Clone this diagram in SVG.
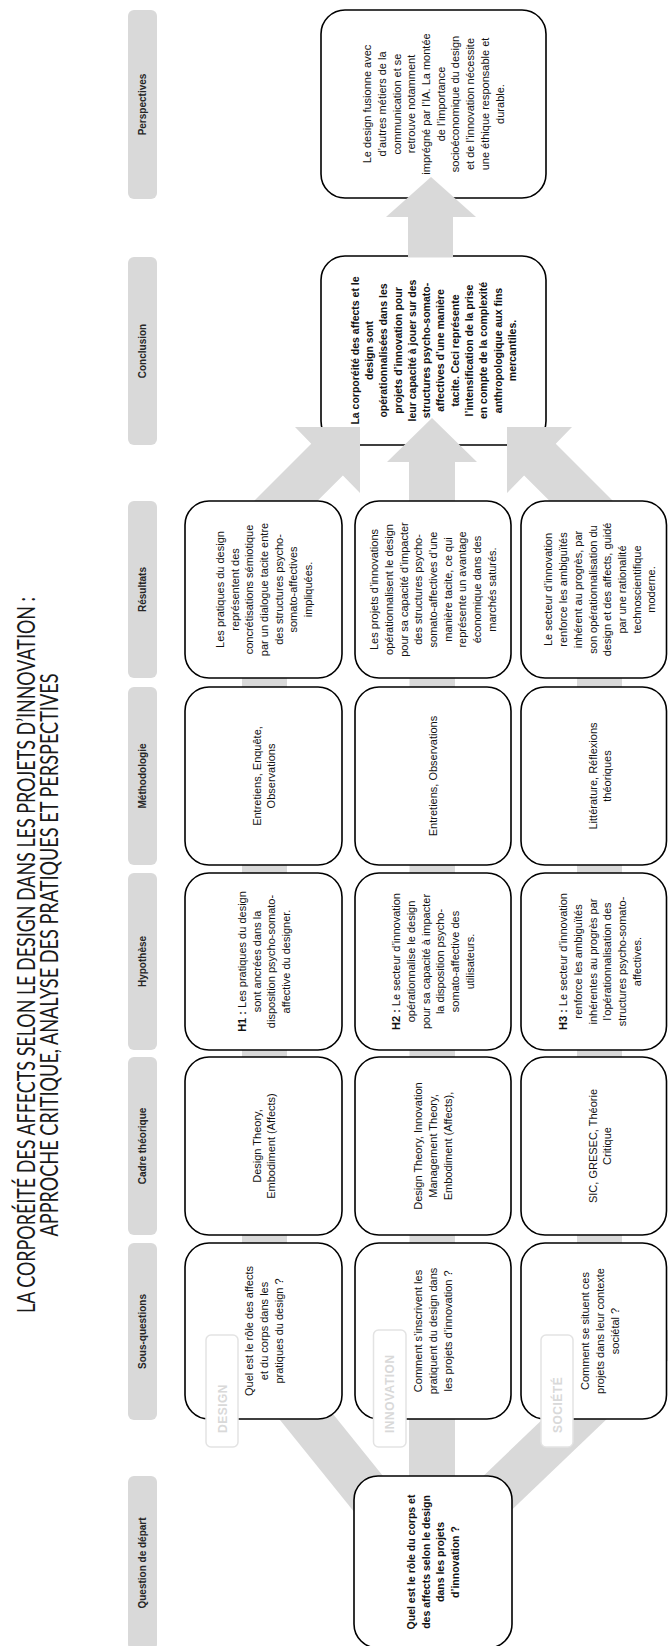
<svg xmlns="http://www.w3.org/2000/svg" width="668" height="1646" viewBox="0 0 668 1646">
<style>
.pill{fill:#d9d9d9}
.hdr{font-family:"Liberation Sans",Arial,sans-serif;font-size:10px;font-weight:bold;fill:#262626;text-anchor:middle}
.box{fill:#fff;stroke:#000;stroke-width:1.6}
.t{font-family:"Liberation Sans",Arial,sans-serif;font-size:11px;fill:#111;text-anchor:middle}
.b{font-family:"Liberation Sans",Arial,sans-serif;font-weight:bold;font-size:10.5px;fill:#111;text-anchor:middle}
.hb{font-weight:bold}
.conn{fill:#d9d9d9}
.lbl{fill:#fff;stroke:#e3e3e3;stroke-width:1.5}
.lt{font-family:"Liberation Sans",Arial,sans-serif;font-size:12px;font-weight:bold;fill:#d9d9d9;letter-spacing:0.5px}
.title{font-family:Lato,"Liberation Sans",Arial,sans-serif;font-weight:normal;font-size:25px;fill:#1a1a1a;text-anchor:middle}
</style>
<rect width="668" height="1646" fill="#fff"/>

<g id="title">
<text class="title" transform="translate(0 955) rotate(-90)" x="0" y="35" textLength="716" lengthAdjust="spacingAndGlyphs">LA CORPORÉITÉ DES AFFECTS SELON LE DESIGN DANS LES PROJETS D’INNOVATION :</text>
<text class="title" transform="translate(0 955) rotate(-90)" x="0" y="58" textLength="563" lengthAdjust="spacingAndGlyphs">APPROCHE CRITIQUE, ANALYSE DES PRATIQUES ET PERSPECTIVES</text>
</g>

<g id="headers">
<rect class="pill" x="128" y="10" width="29" height="189" rx="6"/>
<text class="hdr" transform="translate(142.5 104.5) rotate(-90)" y="3.6">Perspectives</text>
<rect class="pill" x="128" y="257" width="29" height="188" rx="6"/>
<text class="hdr" transform="translate(142.5 351) rotate(-90)" y="3.6">Conclusion</text>
<rect class="pill" x="128" y="501" width="29" height="177" rx="6"/>
<text class="hdr" transform="translate(142.5 589.5) rotate(-90)" y="3.6">Résultats</text>
<rect class="pill" x="128" y="687" width="29" height="178" rx="6"/>
<text class="hdr" transform="translate(142.5 776) rotate(-90)" y="3.6">Méthodologie</text>
<rect class="pill" x="128" y="873" width="29" height="177" rx="6"/>
<text class="hdr" transform="translate(142.5 961.5) rotate(-90)" y="3.6">Hypothèse</text>
<rect class="pill" x="128" y="1057" width="29" height="178" rx="6"/>
<text class="hdr" transform="translate(142.5 1146) rotate(-90)" y="3.6">Cadre théorique</text>
<rect class="pill" x="128" y="1243" width="29" height="177" rx="6"/>
<text class="hdr" transform="translate(142.5 1331.5) rotate(-90)" y="3.6">Sous-questions</text>
<rect class="pill" x="128" y="1476" width="29" height="174" rx="6"/>
<text class="hdr" transform="translate(142.5 1563) rotate(-90)" y="3.6">Question de départ</text>
</g>

<g id="node-perspectives">
<rect class="box" x="321" y="10" width="225" height="188" rx="24"/>
</g>
<g id="node-conclusion">
<rect class="box" x="321" y="256" width="225" height="189" rx="24"/>
</g>

<g id="connectors">
<rect class="conn" x="242" y="589" width="45" height="742"/>
<rect class="conn" x="409.5" y="589" width="45.5" height="742"/>
<rect class="conn" x="577" y="589" width="45" height="742"/>
<rect class="conn" x="409" y="1330" width="46" height="230"/>
<polygon class="conn" points="207.4,1330 265.3,1330 450.7,1560 392.9,1560"/>
<polygon class="conn" points="635.9,1330 699.8,1330 459.5,1560 395.5,1560"/>
<polygon class="conn" points="409,560 455,560 455,462 477,462 432,418 387,462 409,462"/>
<polygon class="conn" points="360,427 295,427 311.25,443.75 235,520 298.3,520 342.9,475.4 360,493"/>
<polygon class="conn" points="507,427 572,427 555.75,443.75 632,520 568.7,520 524.1,475.4 507,493"/>
<polygon class="conn" points="408,257.5 453,257.5 453,217 476,217 431,177 386,217 408,217"/>
</g>

<g id="node-question">
<rect class="box" x="354" y="1476" width="158" height="172" rx="24"/>
<text class="b" transform="translate(433 1562) rotate(-90)"><tspan x="0" y="-18.2">Quel est le rôle du corps et</tspan><tspan x="0" dy="14.7">des affects selon le design</tspan><tspan x="0" dy="14.7">dans les projets</tspan><tspan x="0" dy="14.7">d’innovation ?</tspan></text>
</g>

<g id="node-sq1">
<rect class="box" x="185" y="1243" width="157" height="176" rx="24"/>
<text class="t" transform="translate(264 1331) rotate(-90)"><tspan x="0" y="-10.8">Quel est le rôle des affects</tspan><tspan x="0" dy="14.7">et du corps dans les</tspan><tspan x="0" dy="14.7">pratiques du design ?</tspan></text>
</g>
<g id="node-sq2">
<rect class="box" x="355" y="1243" width="156" height="176" rx="24"/>
<text class="t" transform="translate(433 1331) rotate(-90)"><tspan x="0" y="-10.8">Comment s’inscrivent les</tspan><tspan x="0" dy="14.7">pratiquent du design dans</tspan><tspan x="0" dy="14.7">les projets d’innovation ?</tspan></text>
</g>
<g id="node-sq3">
<rect class="box" x="521" y="1243" width="145.5" height="176" rx="24"/>
<text class="t" transform="translate(600 1331) rotate(-90)"><tspan x="0" y="-10.8">Comment se situent ces</tspan><tspan x="0" dy="14.7">projets dans leur contexte</tspan><tspan x="0" dy="14.7">sociétal ?</tspan></text>
</g>

<g id="node-cadre1">
<rect class="box" x="185" y="1057" width="157" height="178" rx="24"/>
<text class="t" transform="translate(264 1146) rotate(-90)"><tspan x="0" y="-3.45">Design Theory,</tspan><tspan x="0" dy="14.7">Embodiment (Affects)</tspan></text>
</g>
<g id="node-cadre2">
<rect class="box" x="355" y="1057" width="156" height="178" rx="24"/>
<text class="t" transform="translate(433 1146) rotate(-90)"><tspan x="0" y="-10.8">Design Theory, Innovation</tspan><tspan x="0" dy="14.7">Management Theory,</tspan><tspan x="0" dy="14.7">Embodiment (Affects),</tspan></text>
</g>
<g id="node-cadre3">
<rect class="box" x="521" y="1057" width="145.5" height="178" rx="24"/>
<text class="t" transform="translate(600 1146) rotate(-90)"><tspan x="0" y="-3.45">SIC, GRESEC, Théorie</tspan><tspan x="0" dy="14.7">Critique</tspan></text>
</g>

<g id="node-hyp1">
<rect class="box" x="185" y="873" width="157" height="177" rx="24"/>
<text class="t" transform="translate(264 961.5) rotate(-90)"><tspan x="0" y="-18.15"><tspan class="hb">H1 :</tspan> Les pratiques du design</tspan><tspan x="0" dy="14.7">sont ancrées dans la</tspan><tspan x="0" dy="14.7">disposition psycho-somato-</tspan><tspan x="0" dy="14.7">affective du designer.</tspan></text>
</g>
<g id="node-hyp2">
<rect class="box" x="355" y="873" width="156" height="177" rx="24"/>
<text class="t" transform="translate(433 961.5) rotate(-90)"><tspan x="0" y="-32.85"><tspan class="hb">H2 :</tspan> Le secteur d’innovation</tspan><tspan x="0" dy="14.7">opérationnalise le design</tspan><tspan x="0" dy="14.7">pour sa capacité à impacter</tspan><tspan x="0" dy="14.7">la disposition psycho-</tspan><tspan x="0" dy="14.7">somato-affective des</tspan><tspan x="0" dy="14.7">utilisateurs.</tspan></text>
</g>
<g id="node-hyp3">
<rect class="box" x="521" y="873" width="145.5" height="177" rx="24"/>
<text class="t" transform="translate(600 961.5) rotate(-90)"><tspan x="0" y="-32.85"><tspan class="hb">H3 :</tspan> Le secteur d’innovation</tspan><tspan x="0" dy="14.7">renforce les ambiguïtés</tspan><tspan x="0" dy="14.7">inhérentes au progrès par</tspan><tspan x="0" dy="14.7">l’opérationnalisation des</tspan><tspan x="0" dy="14.7">structures psycho-somato-</tspan><tspan x="0" dy="14.7">affectives.</tspan></text>
</g>

<g id="node-meth1">
<rect class="box" x="185" y="687" width="157" height="178" rx="24"/>
<text class="t" transform="translate(264 776) rotate(-90)"><tspan x="0" y="-3.45">Entretiens, Enquête,</tspan><tspan x="0" dy="14.7">Observations</tspan></text>
</g>
<g id="node-meth2">
<rect class="box" x="355" y="687" width="156" height="178" rx="24"/>
<text class="t" transform="translate(433 776) rotate(-90)"><tspan x="0" y="3.9">Entretiens, Observations</tspan></text>
</g>
<g id="node-meth3">
<rect class="box" x="521" y="687" width="145.5" height="178" rx="24"/>
<text class="t" transform="translate(600 776) rotate(-90)"><tspan x="0" y="-3.45">Littérature, Réflexions</tspan><tspan x="0" dy="14.7">théoriques</tspan></text>
</g>

<g id="node-res1">
<rect class="box" x="185" y="501" width="157" height="177" rx="24"/>
<text class="t" transform="translate(264 589.5) rotate(-90)"><tspan x="0" y="-40.2">Les pratiques du design</tspan><tspan x="0" dy="14.7">représentent des</tspan><tspan x="0" dy="14.7">concrétisations sémiotique</tspan><tspan x="0" dy="14.7">par un dialogue tacite entre</tspan><tspan x="0" dy="14.7">des structures psycho-</tspan><tspan x="0" dy="14.7">somato-affectives</tspan><tspan x="0" dy="14.7">impliquées.</tspan></text>
</g>
<g id="node-res2">
<rect class="box" x="355" y="501" width="156" height="177" rx="24"/>
<text class="t" transform="translate(433 589.5) rotate(-90)"><tspan x="0" y="-54.9">Les projets d’innovations</tspan><tspan x="0" dy="14.7">opérationnalisent le design</tspan><tspan x="0" dy="14.7">pour sa capacité d’impacter</tspan><tspan x="0" dy="14.7">des structures psycho-</tspan><tspan x="0" dy="14.7">somato-affectives d’une</tspan><tspan x="0" dy="14.7">manière tacite, ce qui</tspan><tspan x="0" dy="14.7">représente un avantage</tspan><tspan x="0" dy="14.7">économique dans des</tspan><tspan x="0" dy="14.7">marchés saturés.</tspan></text>
</g>
<g id="node-res3">
<rect class="box" x="521" y="501" width="145.5" height="177" rx="24"/>
<text class="t" transform="translate(600 589.5) rotate(-90)"><tspan x="0" y="-47.55">Le secteur d’innovation</tspan><tspan x="0" dy="14.7">renforce les ambiguïtés</tspan><tspan x="0" dy="14.7">inhérent au progrès, par</tspan><tspan x="0" dy="14.7">son opérationnalisation du</tspan><tspan x="0" dy="14.7">design et des affects, guidé</tspan><tspan x="0" dy="14.7">par une rationalité</tspan><tspan x="0" dy="14.7">technoscientifique</tspan><tspan x="0" dy="14.7">moderne.</tspan></text>
</g>

<g id="text-conclusion">
<text class="b" transform="translate(433.5 350.5) rotate(-90)"><tspan x="0" y="-74.9">La corporéité des affects et le</tspan><tspan x="0" dy="14.3">design sont</tspan><tspan x="0" dy="14.3">opérationnalisées dans les</tspan><tspan x="0" dy="14.3">projets d’innovation pour</tspan><tspan x="0" dy="14.3">leur capacité à jouer sur des</tspan><tspan x="0" dy="14.3">structures psycho-somato-</tspan><tspan x="0" dy="14.3">affectives d’une manière</tspan><tspan x="0" dy="14.3">tacite. Ceci représente</tspan><tspan x="0" dy="14.3">l’intensification de la prise</tspan><tspan x="0" dy="14.3">en compte de la complexité</tspan><tspan x="0" dy="14.3">anthropologique aux fins</tspan><tspan x="0" dy="14.3">mercantiles.</tspan></text>
</g>
<g id="text-perspectives">
<text class="t" transform="translate(433.5 104) rotate(-90)"><tspan x="0" y="-62.25">Le design fusionne avec</tspan><tspan x="0" dy="14.7">d’autres métiers de la</tspan><tspan x="0" dy="14.7">communication et se</tspan><tspan x="0" dy="14.7">retrouve notamment</tspan><tspan x="0" dy="14.7">imprégné par l’IA. La montée</tspan><tspan x="0" dy="14.7">de l’importance</tspan><tspan x="0" dy="14.7">socioéconomique du design</tspan><tspan x="0" dy="14.7">et de l’innovation nécessite</tspan><tspan x="0" dy="14.7">une éthique responsable et</tspan><tspan x="0" dy="14.7">durable.</tspan></text>
</g>

<g id="label-design">
<rect class="lbl" x="206" y="1335" width="32" height="112" rx="5"/>
<text class="lt" transform="translate(226.5 1433) rotate(-90)">DESIGN</text>
</g>
<g id="label-innovation">
<rect class="lbl" x="373.5" y="1330" width="32.5" height="117" rx="5"/>
<text class="lt" transform="translate(394 1433) rotate(-90)">INNOVATION</text>
</g>
<g id="label-societe">
<rect class="lbl" x="541" y="1335" width="32" height="112" rx="5"/>
<text class="lt" transform="translate(561.5 1433) rotate(-90)">SOCIÉTÉ</text>
</g>
</svg>
